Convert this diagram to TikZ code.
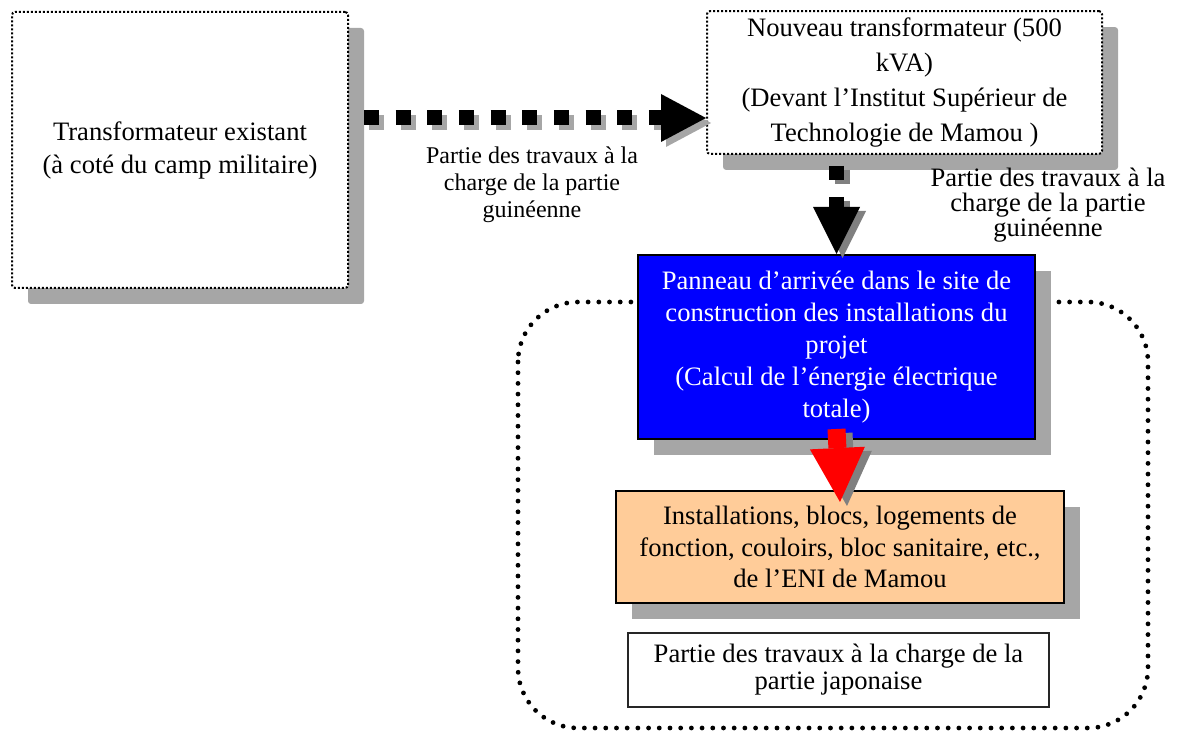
\documentclass[tikz,border=0pt]{standalone}
\usepackage{fontspec}
\setmainfont{Liberation Serif}
\usetikzlibrary{arrows.meta,shadows}
\definecolor{peach}{RGB}{255,204,153}
\newcommand{\fs}[2]{\fontsize{#1}{#2}\selectfont}

\begin{document}
\begin{tikzpicture}[x=0.5pt, y=-0.5pt,
    hatch/.style={drop shadow={shadow xshift=8pt, shadow yshift=-8pt, fill=black!35, opacity=1}},
    dotbox/.style={draw=black, line width=1pt, dash pattern=on 1pt off 1pt, rounded corners=1.5pt,
      fill=white, align=center, hatch},
    plainbox/.style={draw=black, line width=1pt, align=center, hatch},
    lab/.style={align=center, inner sep=0pt},
    zone/.style={line width=2.4pt, line cap=round, dash pattern=on 0pt off 5.35pt, rounded corners=30pt},
    dotarrow/.style={line width=7.5pt, dash pattern=on 7.5pt off 8.33pt,
      -{Triangle[length=22.5pt, width=24pt, line width=0pt]}},
    downarrow/.style={line width=7.5pt, dash pattern=on 7pt off 8.5pt, dash phase=10pt,
      -{Triangle[length=23.5pt, width=23.5pt, line width=0pt]}},
    redarrow/.style={line width=9pt, -{Triangle[length=27pt, width=27.5pt, line width=0pt]}}]
  \useasboundingbox (0,0) rectangle (1178,731);

  % part paid by the japanese side
  \draw[zone] (518,302) rectangle (1148,728);

  \node[dotbox, minimum width=168pt, minimum height=138pt, font=\fs{13.3}{16.5}] (exist) at (180,150)
    {Transformateur existant\\(à coté du camp militaire)};
  \node[dotbox, minimum width=197.5pt, minimum height=69.5pt, font=\fs{13.3}{17.5}] (nouveau) at (904.5,82.5)
    {Nouveau transformateur (500\\kVA)\\(Devant l’Institut Supérieur de\\Technologie de Mamou )};
  \node[plainbox, fill=blue, text=white, minimum width=198.5pt, minimum height=92pt, font=\fs{13.3}{16}] (panel) at (836.5,347)
    {Panneau d’arrivée dans le site de\\construction des installations du\\projet\\(Calcul de l’énergie électrique\\totale)};
  \node[plainbox, fill=peach, minimum width=224pt, minimum height=56pt, font=\fs{13.3}{15.75}] (site) at (840,547)
    {Installations, blocs, logements de\\fonction, couloirs, bloc sanitaire, etc.,\\de l’ENI de Mamou};
  \node[draw=black!85, line width=0.75pt, fill=white, align=center, minimum width=210.5pt, minimum height=37pt,
    font=\fs{13.3}{13.5}] (japon) at (838.5,670)
    {Partie des travaux à la charge de la\\partie japonaise};

  \node[lab, font=\fs{12}{13.5}] (guin1) at (532,185) {Partie des travaux à la\\charge de la partie\\guinéenne};
  \node[lab, font=\fs{13.3}{12.5}] (guin2) at (1048,205) {Partie des travaux à la\\charge de la partie\\guinéenne};

  % arrows
  \draw[dotarrow, black!35, transform canvas={shift={(2.5pt,-2.5pt)}}]
    ([shift={(7.5pt,16pt)}]exist.east) -- ([yshift=-17.75pt]nouveau.west);
  \draw[dotarrow] ([shift={(7.5pt,16pt)}]exist.east) -- ([yshift=-17.75pt]nouveau.west);
  \draw[downarrow, black!50, transform canvas={shift={(3pt,-2pt)}}] (panel.north |- nouveau.south) -- (panel.north);
  \draw[downarrow] (panel.north |- nouveau.south) -- (panel.north);
  \draw[redarrow, black!50, transform canvas={shift={(3.5pt,-2pt)}}] ([yshift=5.5pt]panel.south) -- ([yshift=-6pt]site.north);
  \draw[redarrow, red] ([yshift=5.5pt]panel.south) -- ([yshift=-6pt]site.north);
\end{tikzpicture}
\end{document}
